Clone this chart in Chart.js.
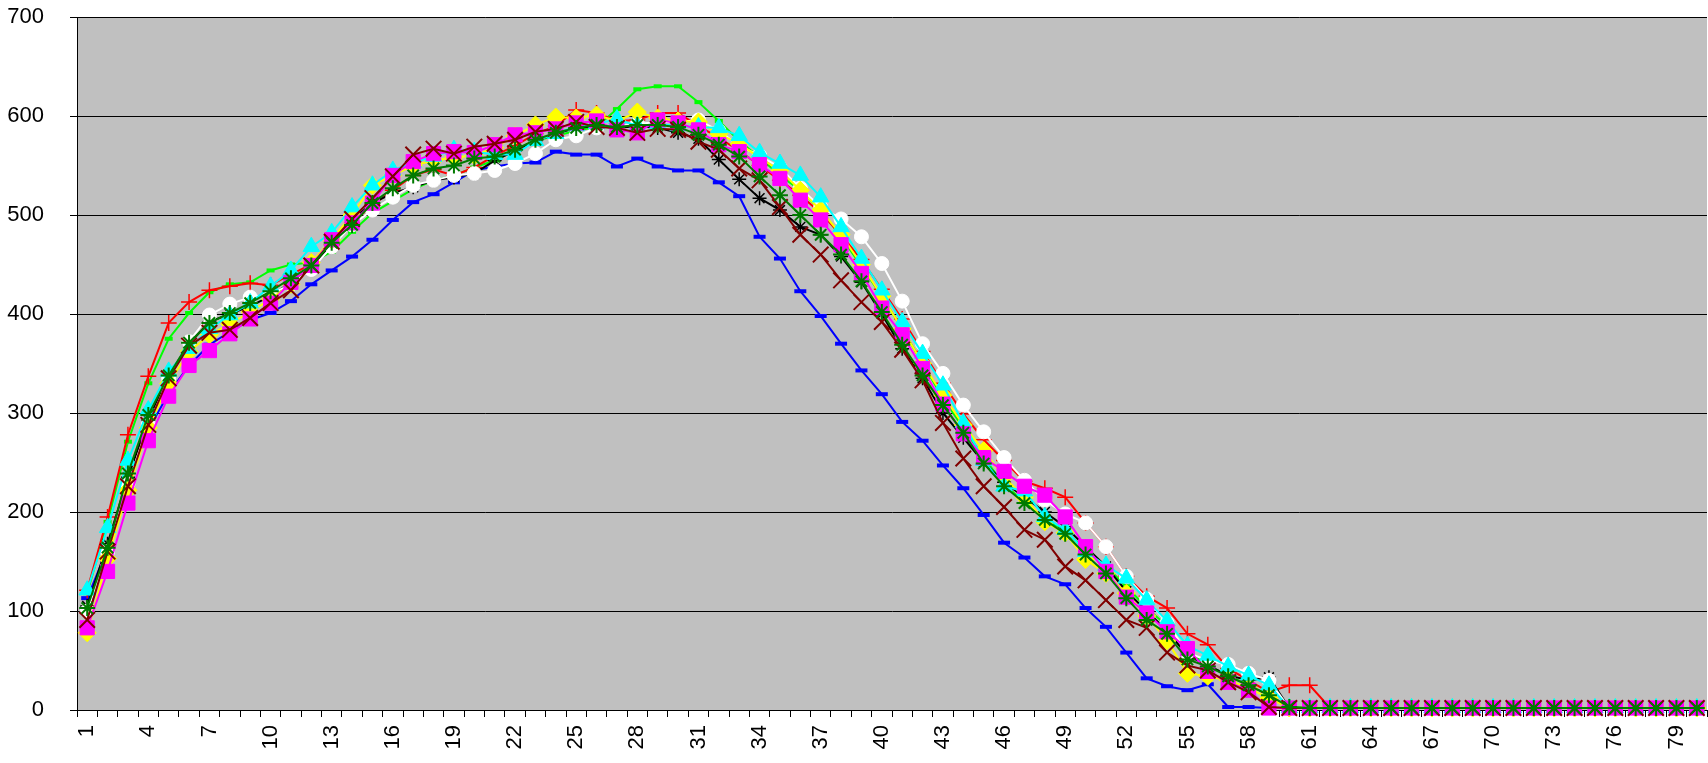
<!DOCTYPE html>
<html>
<head>
<meta charset="utf-8">
<title>Chart</title>
<script src="https://cdn.jsdelivr.net/npm/chart.js@4/dist/chart.umd.min.js"></script>
<style>
  html, body { margin: 0; padding: 0; background: #FFFFFF; overflow: hidden; }
  #wrap { width: 1708px; height: 763px; position: relative; }
  #mainChart { display: block; }
</style>
</head>
<body>
<div id="wrap"><canvas id="mainChart"></canvas></div>
<script>
// Категории 1..80
const categories = [];
for (let i = 1; i <= 80; i++) categories.push(String(i));

const yTicks = [0, 100, 200, 300, 400, 500, 600, 700];

// Значения серий
const blueValues = [113,163,230,283,320,348,369,382,394,401, 413,430,444,458,475,495,513,521,533,545,
  549,552,553,564,561,561,549,557,549,545, 545,533,519,478,456,423,398,370,343,319,
  291,272,247,224,197,169,154,135,127,103, 84,58,32,24,20,26,3,3,2,2,
  2,2,2,2,2,2,2,2,2,2, 2,2,2,2,2,2,2,2,2,2];
const whiteValues = [100,160,228,288,335,372,399,410,417,420, 430,445,468,490,505,518,530,535,540,542,
  545,552,562,576,580,588,590,592,594,594, 596,585,570,560,548,527,508,496,478,451,
  413,370,340,308,281,255,232,212,198,189, 165,135,112,88,58,50,46,37,30,2,
  2,2,2,2,2,2,2,2,2,2, 2,2,2,2,2,2,2,2,2,2];
const yellowValues = [78,153,222,285,330,362,379,390,402,415, 430,452,475,500,530,540,550,555,558,560,
  568,580,591,599,598,601,595,604,598,595, 594,582,572,558,545,525,505,480,450,418,
  385,350,318,288,262,235,215,190,179,152, 138,118,95,70,37,34,30,22,12,2,
  2,2,2,2,2,2,2,2,2,2, 2,2,2,2,2,2,2,2,2,2];
const cyanValues = [121,184,252,303,342,365,385,399,411,428, 444,468,482,508,530,545,553,559,566,564,
  561,561,575,582,590,592,597,590,592,590, 589,588,580,563,552,540,518,488,456,424,
  392,360,328,290,252,226,221,195,182,160, 146,133,111,90,65,55,44,35,25,2,
  2,2,2,2,2,2,2,2,2,2, 2,2,2,2,2,2,2,2,2,2];
const magentaValues = [83,140,209,272,317,348,363,380,395,411, 432,449,475,492,512,540,554,562,564,563,
  571,581,583,587,593,595,586,583,596,593, 586,571,564,551,537,515,495,470,441,406,
  379,345,309,279,255,241,226,217,195,165, 140,114,98,79,62,39,28,20,2,2,
  2,2,2,2,2,2,2,2,2,2, 2,2,2,2,2,2,2,2,2,2];
const redValues = [121,195,278,337,391,412,424,428,431,429, 440,450,470,492,510,525,540,546,540,548,
  560,570,582,590,606,603,595,596,603,603, 590,578,565,550,535,520,502,480,455,425,
  395,362,330,299,273,252,231,224,215,189, 165,135,115,103,77,66,42,30,18,25,
  25,2,2,2,2,2,2,2,2,2, 2,2,2,2,2,2,2,2,2,2];
const limeValues = [118,190,271,330,375,401,422,430,432,444, 450,452,463,483,502,514,526,535,540,548,
  555,565,575,580,585,589,607,627,630,630, 614,595,575,558,540,525,505,478,448,418,
  385,350,315,285,255,228,210,193,180,162, 145,125,103,85,60,45,35,25,15,3,
  2,2,2,2,2,2,2,2,2,2, 2,2,2,2,2,2,2,2,2,2];
const blackValues = [105,168,235,293,338,370,392,400,408,418, 432,448,470,495,512,522,528,535,538,542,
  555,565,575,582,588,590,588,590,588,583, 577,556,536,517,505,488,480,458,432,400,
  365,335,300,275,250,230,215,200,185,165, 145,120,100,80,55,45,35,30,33,2,
  2,2,2,2,2,2,2,2,2,2, 2,2,2,2,2,2,2,2,2,2];
const darkRedValues = [91,160,226,288,335,368,381,384,396,411, 424,449,473,496,517,539,561,567,562,569,
  572,576,584,587,594,589,588,583,587,586, 574,566,547,535,508,480,460,434,412,392,
  364,333,290,254,226,205,182,172,145,131, 111,91,83,58,45,40,28,18,3,2,
  2,2,2,2,2,2,2,2,2,2, 2,2,2,2,2,2,2,2,2,2];
const darkGreenValues = [103,164,239,298,338,371,391,401,411,423, 436,449,472,490,512,527,540,547,550,557,
  559,566,576,583,588,591,589,591,591,589, 581,571,559,539,520,500,480,460,433,402,
  369,338,308,280,249,226,209,192,178,157, 138,113,91,77,51,44,34,25,15,3,
  2,2,2,2,2,2,2,2,2,2, 2,2,2,2,2,2,2,2,2,2];

// Заливка области построения серым
const plotBackground = {
    id: 'plotBackground',
    beforeDraw(chart) {
        const { ctx, chartArea: a } = chart;
        ctx.save();
        ctx.fillStyle = '#C0C0C0';
        ctx.fillRect(a.left, a.top, a.right - a.left, a.bottom - a.top);
        ctx.restore();
    }
};

function series(label, data, color, style, radius, width) {
    return {
        label: label,
        data: data,
        borderColor: color,
        backgroundColor: color,
        borderWidth: 2,
        tension: 0,
        fill: false,
        clip: false,
        pointStyle: style,
        pointRadius: radius,
        pointBackgroundColor: color,
        pointBorderColor: color,
        pointBorderWidth: width
    };
}

function createChart() {
    const ctx = document.getElementById('mainChart').getContext('2d');

    // Первый набор рисуется поверх остальных
    const datasets = [
        series('S10', darkGreenValues, '#007A00', 'star', 8, 2),
        series('S9', darkRedValues, '#800000', 'crossRot', 11, 2),
        series('S8', magentaValues, '#FF00FF', 'rect', 10, 1),
        series('S7', cyanValues, '#00FFFF', 'triangle', 9.5, 1),
        series('S6', yellowValues, '#FFFF00', 'rectRot', 9, 1),
        series('S5', whiteValues, '#FFFFFF', 'circle', 7, 1),
        series('S4', blackValues, '#000000', 'star', 7, 1.5),
        series('S3', redValues, '#FF0000', 'cross', 8, 1.5),
        series('S2', limeValues, '#00FF00', 'line', 4, 4),
        series('S1', blueValues, '#0000FF', 'line', 6, 4)
    ];

    new Chart(ctx, {
        type: 'line',
        data: { labels: categories, datasets: datasets },
        plugins: [plotBackground],
        options: {
            responsive: true,
            maintainAspectRatio: false,
            animation: false,
            layout: {
                autoPadding: false,
                padding: { top: 17, right: 1, left: 0, bottom: 0 }
            },
            plugins: {
                legend: { display: false },
                tooltip: { enabled: false }
            },
            scales: {
                x: {
                    type: 'category',
                    offset: true,
                    afterFit: function(scale) {
                        scale.height = 53;
                        scale.paddingLeft = 0;
                        scale.paddingRight = 0;
                    },
                    border: { color: '#000000', width: 1 },
                    grid: {
                        offset: true,
                        drawOnChartArea: false,
                        color: '#000000',
                        tickLength: 7
                    },
                    ticks: {
                        autoSkip: false,
                        maxRotation: 90,
                        minRotation: 90,
                        padding: 8,
                        color: '#000000',
                        font: { family: 'Liberation Sans, Arial, sans-serif', size: 22 },
                        callback: function(value, index) {
                            return index % 3 === 0 ? categories[index] : '';
                        }
                    }
                },
                y: {
                    min: yTicks[0],
                    max: yTicks[yTicks.length - 1],
                    afterFit: function(scale) {
                        scale.width = 77;
                        scale.paddingTop = 0;
                        scale.paddingBottom = 0;
                    },
                    afterBuildTicks: function(scale) {
                        scale.ticks = yTicks.map(v => ({ value: v }));
                    },
                    border: { color: '#000000', width: 1 },
                    grid: {
                        color: '#000000',
                        lineWidth: 1,
                        tickLength: 7
                    },
                    ticks: {
                        padding: 26,
                        color: '#000000',
                        font: { family: 'Liberation Sans, Arial, sans-serif', size: 22 }
                    }
                }
            }
        }
    });
}

document.addEventListener('DOMContentLoaded', createChart);
</script>
</body>
</html>
